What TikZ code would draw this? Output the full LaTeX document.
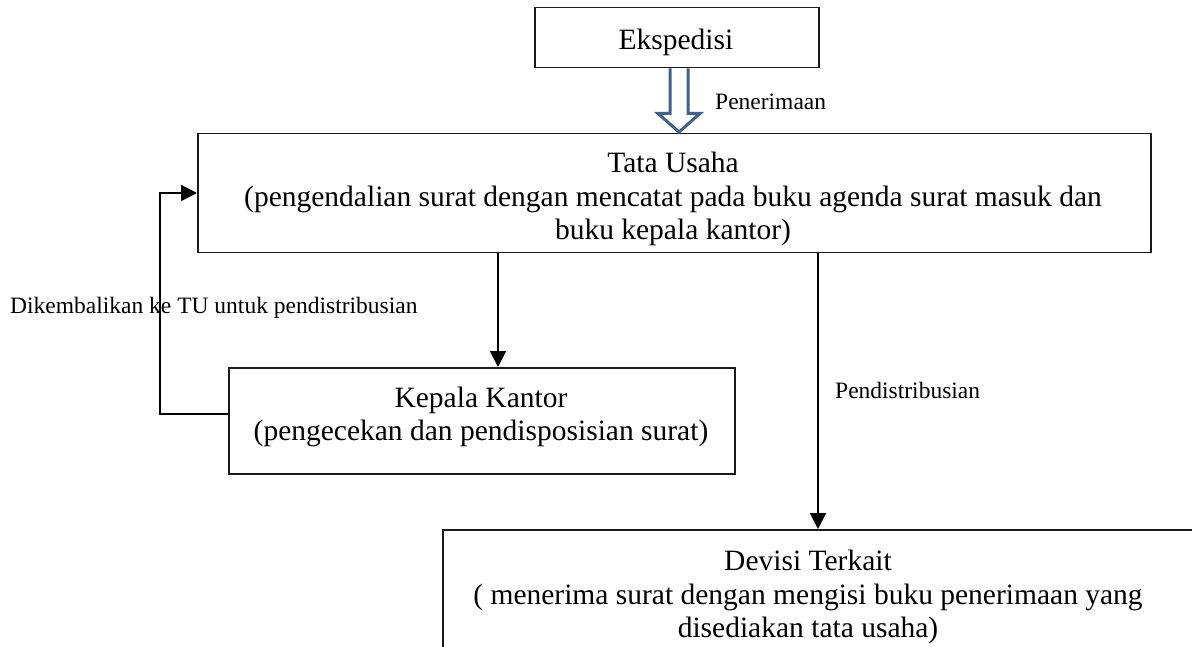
\documentclass[tikz,border=0pt]{standalone}
\usepackage{fontspec}
\setmainfont{Liberation Serif}
\usetikzlibrary{arrows.meta,calc}
\definecolor{hollowblue}{RGB}{65,96,140}
\begin{document}
\begin{tikzpicture}[x=1pt,y=-1pt,
  boxstyle/.style={draw=black!90,line width=1.5pt,inner sep=0pt,anchor=north west},
  boxtext/.style={font=\fontsize{29.5}{33.5}\selectfont,align=center,inner sep=0pt},
  lbltext/.style={font=\fontsize{23.5}{27}\selectfont,inner sep=0pt,anchor=west},
  conn/.style={line width=2pt,-{Triangle[length=16pt,width=16pt]}}]
\useasboundingbox (0,0) rectangle (1192,647);
\clip (0,0) rectangle (1192,647);
% boxes
\node[boxstyle,minimum width=284pt,minimum height=60pt] (eks) at (534,7) {};
\node[boxtext] (eksT) at (676,42) {Ekspedisi};
\node[boxstyle,minimum width=953pt,minimum height=119pt] (tu) at (197,133) {};
\node[boxtext] (tuT) at (673,199) {Tata Usaha\\(pengendalian surat dengan mencatat pada buku agenda surat masuk dan\\buku kepala kantor)};
\node[boxstyle,minimum width=506pt,minimum height=106pt] (kk) at (228,367) {};
\node[boxtext] (kkT) at (481,417) {Kepala Kantor\\(pengecekan dan pendisposisian surat)};
\node[boxstyle,minimum width=780pt,minimum height=160pt] (dev) at (442,529) {};
\node[boxtext,anchor=north] (devT) at (808,550) {Devisi Terkait\\( menerima surat dengan mengisi buku penerimaan yang\\disediakan tata usaha)};
% labels
\node[lbltext] (lblA) at (715,102) {Penerimaan};
\node[lbltext] (lblB) at (10,308) {Dikembalikan ke TU untuk pendistribusian};
\node[lbltext] (lblC) at (835,390) {Pendistribusian};
% hollow arrow from eks to tu
\coordinate (h) at (679,0);
\draw[hollowblue,line width=3pt,line join=miter,fill=white]
  ($(eks.south -| h)+(-9,0)$) -- ++(0,45) -- ++(-12,0) -- ($(tu.north -| h)+(0,-1)$)
  -- ($(eks.south -| h)+(21,45)$) -- ++(-12,0) -- ++(0,-45);
% connectors
\coordinate (c1) at (498,0);
\coordinate (c2) at (818,0);
\coordinate (fb) at (160,0);
\coordinate (fy1) at (0,414);
\coordinate (fy2) at (0,193);
\draw[conn] (tu.south -| c1) -- (kk.north -| c1);
\draw[conn] (tu.south -| c2) -- (dev.north -| c2);
\draw[conn] (kk.west |- fy1) -- (fb |- fy1) -- (fb |- fy2) -- (tu.west |- fy2);
\end{tikzpicture}
\end{document}
